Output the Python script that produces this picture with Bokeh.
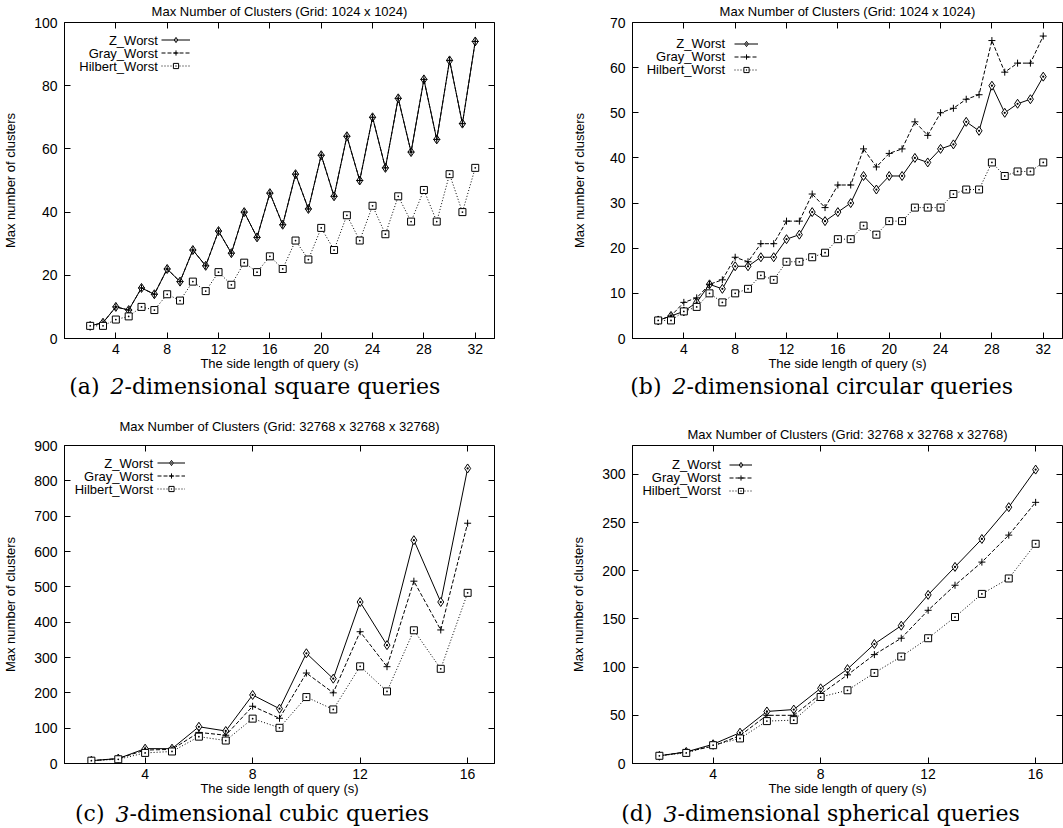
from bokeh.plotting import figure
from bokeh.models import (Range1d, FixedTicker, LinearAxis, Legend, LegendItem,
                          Label, CustomJSTickFormatter)
from bokeh.layouts import column, row
from bokeh.embed import file_html
from bokeh.resources import INLINE

# ---------------- data ----------------
series_names = ["Z_Worst", "Gray_Worst", "Hilbert_Worst"]

sq_x = list(range(2, 33))
sq_z = [4, 5, 10, 9, 16, 14, 22, 18, 28, 23, 34, 27, 40, 32, 46, 36, 52, 41, 58, 45,
        64, 50, 70, 54, 76, 59, 82, 63, 88, 68, 94]
sq_gray = [4, 5, 10, 9, 16, 14, 22, 18, 28, 23, 34, 27, 40, 32, 46, 36, 52, 41, 58, 45,
           64, 50, 70, 54, 76, 59, 82, 63, 88, 68, 94]
sq_hilbert = [4, 4, 6, 7, 10, 9, 14, 12, 18, 15, 21, 17, 24, 21, 26, 22, 31, 25, 35, 28,
              39, 31, 42, 33, 45, 37, 47, 37, 52, 40, 54]

ci_x = list(range(2, 33))
ci_z = [4, 5, 6, 8, 12, 11, 16, 16, 18, 18, 22, 23, 28, 26, 28, 30, 36, 33, 36, 36,
        40, 39, 42, 43, 48, 46, 56, 50, 52, 53, 58]
ci_gray = [4, 5, 8, 9, 12, 13, 18, 17, 21, 21, 26, 26, 32, 29, 34, 34, 42, 38, 41, 42,
           48, 45, 50, 51, 53, 54, 66, 59, 61, 61, 67]
ci_hilbert = [4, 4, 6, 7, 10, 8, 10, 11, 14, 13, 17, 17, 18, 19, 22, 22, 25, 23, 26, 26,
              29, 29, 29, 32, 33, 33, 39, 36, 37, 37, 39]

cu_x = list(range(2, 17))
cu_z = [8, 14, 42, 42, 104, 92, 194, 155, 312, 240, 457, 335, 632, 457, 835]
cu_gray = [8, 14, 38, 40, 88, 80, 162, 128, 256, 200, 373, 274, 516, 378, 680]
cu_hilbert = [8, 12, 30, 34, 76, 65, 127, 101, 188, 153, 275, 204, 377, 268, 483]

sp_x = list(range(2, 17))
sp_z = [8, 12, 20, 32, 54, 56, 78, 98, 124, 143, 175, 204, 233, 266, 305]
sp_gray = [8, 12, 18, 29, 50, 50, 72, 92, 113, 130, 159, 185, 209, 237, 271]
sp_hilbert = [8, 11, 19, 26, 44, 45, 69, 76, 94, 111, 130, 152, 176, 192, 228]

ticks_2d_x = [4, 8, 12, 16, 20, 24, 28, 32]
ticks_3d_x = [4, 8, 12, 16]
ticks_sq_y = [0, 20, 40, 60, 80, 100]
ticks_ci_y = [0, 10, 20, 30, 40, 50, 60, 70]
ticks_cu_y = [0, 100, 200, 300, 400, 500, 600, 700, 800, 900]
ticks_sp_y = [0, 50, 100, 150, 200, 250, 300]

title_2d = "Max Number of Clusters (Grid: 1024 x 1024)"
title_3d = "Max Number of Clusters (Grid: 32768 x 32768 x 32768)"
xlabel = "The side length of query (s)"
ylabel = "Max number of clusters"

captions = [
    ("(a)", "2", "-dimensional square queries"),
    ("(b)", "2", "-dimensional circular queries"),
    ("(c)", "3", "-dimensional cubic queries"),
    ("(d)", "3", "-dimensional spherical queries"),
]

SANS = "Liberation Sans"
SERIF = "DejaVu Serif"

styles = [
    dict(marker="diamond_dot", size=9, dash="solid"),
    dict(marker="cross", size=7, dash="4 2"),
    dict(marker="square_dot", size=7, dash="1 2"),
]


def make_panel(xs, ys_list, xr, yr, xt, yt, title, W, H, bl, br, bt, bb,
               title_standoff, ylab_standoff, leg):
    p = figure(width=W, height=H, x_range=Range1d(*xr), y_range=Range1d(*yr),
               output_backend="svg", toolbar_location=None,
               min_border_left=bl, min_border_right=br, min_border_top=bt,
               min_border_bottom=bb)
    p.grid.visible = False
    p.outline_line_color = "black"
    p.outline_line_alpha = 1
    p.outline_line_width = 1
    p.background_fill_color = "white"
    p.border_fill_color = "white"

    xa = p.below[0]
    ya = p.left[0]
    xa.ticker = FixedTicker(ticks=xt)
    ya.ticker = FixedTicker(ticks=yt)
    for ax in (xa, ya):
        ax.major_tick_in = 6
        ax.major_tick_out = 0
        ax.minor_tick_line_color = None
        ax.major_label_text_font = SANS
        ax.major_label_text_font_size = "14px"
        ax.major_label_text_color = "black"
        ax.axis_label_text_font = SANS
        ax.axis_label_text_font_size = "13px"
        ax.axis_label_text_font_style = "normal"
        ax.axis_label_text_color = "black"
        ax.axis_line_color = "black"
        ax.major_tick_line_color = "black"
    xa.axis_label = xlabel
    ya.axis_label = ylabel
    xa.major_label_standoff = 5
    xa.axis_label_standoff = -1
    ya.major_label_standoff = 7
    ya.axis_label_standoff = ylab_standoff

    # mirrored ticks on the top (carrying the chart title) and on the right
    top = LinearAxis(ticker=FixedTicker(ticks=xt), major_tick_in=6, major_tick_out=0,
                     minor_tick_line_color=None, major_label_text_font_size="0px",
                     major_label_standoff=0, axis_line_color=None,
                     formatter=CustomJSTickFormatter(code="return ''"),
                     axis_label=title, axis_label_standoff=title_standoff,
                     axis_label_text_font=SANS, axis_label_text_font_size="13px",
                     axis_label_text_font_style="normal", axis_label_text_color="black")
    p.add_layout(top, "above")
    right = LinearAxis(ticker=FixedTicker(ticks=yt), major_tick_in=6, major_tick_out=0,
                       minor_tick_line_color=None, major_label_text_font_size="0px",
                       major_label_standoff=0, axis_line_color=None, axis_label_standoff=0,
                       formatter=CustomJSTickFormatter(code="return ''"))
    p.add_layout(right, "right")

    items = []
    for name, ys, st in zip(series_names, ys_list, styles):
        lr = p.line(xs, ys, line_color="black", line_width=1, line_dash=st["dash"])
        sr = p.scatter(xs, ys, marker=st["marker"], size=st["size"],
                       line_color="black", fill_color="white", line_width=1)
        items.append(LegendItem(label=" ", renderers=[lr, sr]))

    gx, gw, row0, tx = leg
    frame_h = H - bt - bb
    legend = Legend(items=items, location=(gx, frame_h - (row0 - 6.5) - 39),
                    orientation="vertical", glyph_width=gw, glyph_height=13,
                    label_height=13, label_width=0, spacing=0, padding=0, margin=0,
                    label_standoff=0, label_text_font_size="6px",
                    border_line_color=None, background_fill_alpha=0)
    p.add_layout(legend)
    for i, name in enumerate(series_names):
        p.add_layout(Label(x=tx, y=frame_h - (row0 + 13 * i), x_units="screen",
                           y_units="screen", text=name, text_align="right",
                           text_baseline="middle", text_font=SANS,
                           text_font_size="13px", text_color="black"))
    return p


def make_caption(parts, W, H, dx, cy):
    c = figure(width=W, height=H, x_range=Range1d(0, 1), y_range=Range1d(0, 1),
               output_backend="svg", toolbar_location=None, x_axis_type=None,
               y_axis_type=None, min_border=0, min_border_left=0, min_border_right=0,
               min_border_top=0, min_border_bottom=0)
    c.grid.visible = False
    c.outline_line_color = None
    c.background_fill_color = "white"
    c.border_fill_color = "white"
    pre, digit, post = parts
    common = dict(y=cy, x_units="screen", y_units="screen", text_baseline="middle",
                  text_font=SERIF, text_font_size="22px", text_color="black")
    c.add_layout(Label(x=dx - 11, text=pre, text_align="right", **common))
    c.add_layout(Label(x=dx, text=digit, text_align="left", text_font_style="italic",
                       **common))
    c.add_layout(Label(x=dx + 14, text=post, text_align="left", **common))
    return c


pa = make_panel(sq_x, [sq_z, sq_gray, sq_hilbert], (0, 33.5), (0, 100), ticks_2d_x,
                ticks_sq_y, title_2d, 531, 373, 64, 37, 22, 34, 4, 13,
                (96.7, 29, 18.7, 93.3))
pb = make_panel(ci_x, [ci_z, ci_gray, ci_hilbert], (0, 33.5), (0, 70), ticks_2d_x,
                ticks_ci_y, title_2d, 532, 373, 101, 1, 22, 34, 4, 20,
                (101.7, 24, 22.3, 92.7))
pc = make_panel(cu_x, [cu_z, cu_gray, cu_hilbert], (1, 17), (0, 900), ticks_3d_x,
                ticks_cu_y, title_3d, 531, 384, 64, 37, 31, 35, 12, 13,
                (92.7, 28, 17.7, 88.7))
pd_ = make_panel(sp_x, [sp_z, sp_gray, sp_hilbert], (1, 17), (0, 330), ticks_3d_x,
                 ticks_sp_y, title_3d, 532, 384, 101, 1, 31, 35, 4, 13,
                 (96.7, 23, 19.3, 88.4))

ca = make_caption(captions[0], 531, 41, 110, 28.5)
cb = make_caption(captions[1], 532, 41, 141, 28.5)
cc = make_caption(captions[2], 531, 30, 115, 15)
cd = make_caption(captions[3], 532, 30, 132, 15)

layout = column(row(pa, pb), row(ca, cb), row(pc, pd_), row(cc, cd))
open("out.html", "w").write(file_html(layout, INLINE))
